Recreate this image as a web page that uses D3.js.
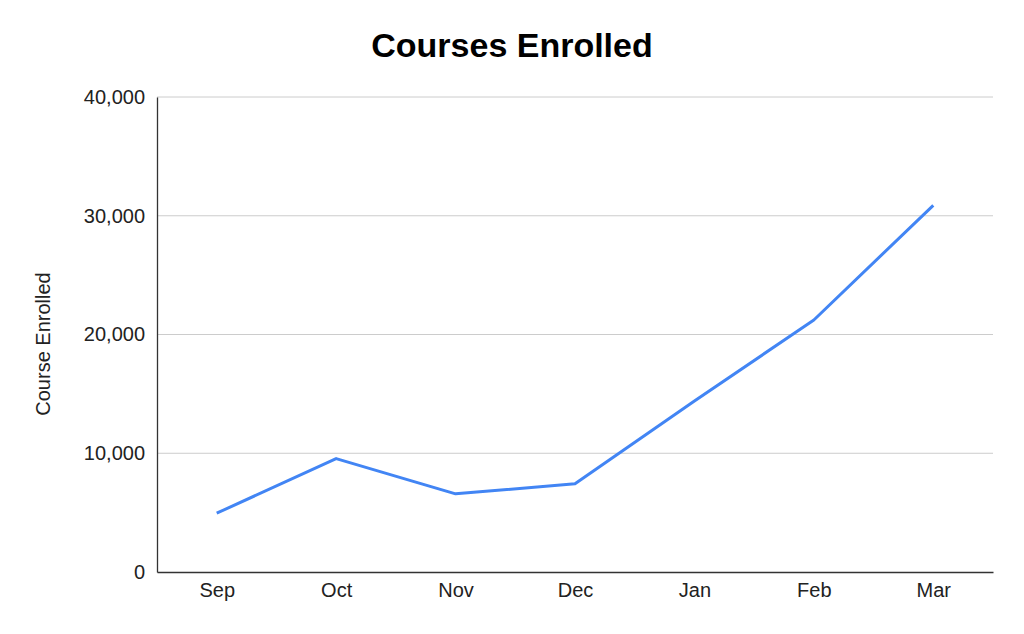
<!DOCTYPE html>
<html>
<head>
<meta charset="utf-8">
<script src="https://cdn.jsdelivr.net/npm/d3@7"></script>
<style>
  body { margin: 0; background: #fff; }
  text { font-family: Arial, "Liberation Sans", sans-serif; }
</style>
</head>
<body>
<div class="chart"></div>
<script>
const months = ['Sep', 'Oct', 'Nov', 'Dec', 'Jan', 'Feb', 'Mar'];
const enrolled = [4950, 9550, 6580, 7430, 14400, 21220, 30880];
const yTicks = [0, 10000, 20000, 30000, 40000];

const data = months.map((m, i) => ({month: m, value: enrolled[i]}));

const W = 1024, H = 634;
const margin = ({top: 97, right: 31, bottom: 62, left: 157});
const width = W - margin.left - margin.right;
const height = H - margin.top - margin.bottom;

const svg = d3.select('.chart').append('svg')
    .attr('width', W)
    .attr('height', H);

const g = svg.append('g')
    .attr('transform', `translate(${margin.left},${margin.top})`);

const xScale = d3.scalePoint()
    .domain(months)
    .range([0, width])
    .padding(0.5);

const yScale = d3.scaleLinear()
    .domain([0, 40000])
    .range([height, 0]);

// gridlines
g.selectAll('.grid')
    .data(yTicks.slice(1))
    .enter()
    .append('line')
    .attr('x1', 0)
    .attr('x2', width)
    .attr('y1', d => yScale(d))
    .attr('y2', d => yScale(d))
    .attr('stroke', '#cccccc')
    .attr('stroke-width', 1);

const yAxis = d3.axisLeft(yScale)
    .tickValues(yTicks)
    .tickFormat(d3.format(','))
    .tickSize(0)
    .tickPadding(12);

g.append('g')
    .attr('class', 'axis y-axis')
    .call(yAxis)
    .call(a => a.select('.domain').attr('stroke', '#333').attr('stroke-width', 1.3))
    .selectAll('text')
    .attr('font-size', 20)
    .attr('fill', '#222');

const xAxis = d3.axisBottom(xScale).tickSize(0).tickPadding(11);

g.append('g')
    .attr('class', 'axis x-axis')
    .attr('transform', `translate(0,${height})`)
    .call(xAxis)
    .call(a => a.select('.domain').attr('stroke', '#333').attr('stroke-width', 1.3))
    .selectAll('text')
    .attr('font-size', 20)
    .attr('fill', '#222');

const line = d3.line()
    .x(d => xScale(d.month))
    .y(d => yScale(d.value));

g.append('path')
    .datum(data)
    .attr('fill', 'none')
    .attr('stroke', '#4285f4')
    .attr('stroke-width', 3)
    .attr('stroke-linejoin', 'round')
    .attr('d', line);

svg.append('text')
    .attr('x', 512)
    .attr('y', 57)
    .attr('text-anchor', 'middle')
    .attr('font-size', 34)
    .attr('font-weight', 'bold')
    .attr('fill', '#000')
    .text('Courses Enrolled');

svg.append('text')
    .attr('transform', 'translate(50,344) rotate(-90)')
    .attr('text-anchor', 'middle')
    .attr('font-size', 20)
    .attr('fill', '#222')
    .text('Course Enrolled');
</script>
</body>
</html>
